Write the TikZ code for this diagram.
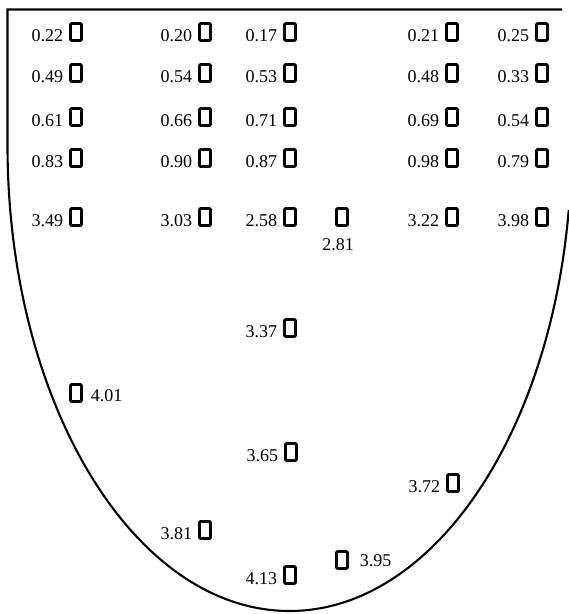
\documentclass[tikz,border=0pt]{standalone}
\usepackage{fontspec}
\setmainfont{Liberation Serif}
\usetikzlibrary{positioning}
\tikzset{
  every picture/.style={line width=2.1pt},
  probe/.style={draw, line width=2.8pt, minimum width=11pt, minimum height=17pt, inner sep=0pt, rounded corners=1pt},
  val/.style={font=\fontsize{18}{20}\selectfont, inner sep=0pt},
}

\begin{document}
\begin{tikzpicture}[x=1pt, y=-1pt]
  \useasboundingbox (0,0) rectangle (569,614);
  % ---------- outline ----------
  \draw (562,9.5) -- (7.5,9.5) -- (7.5,145) arc[start angle=180, end angle=8, x radius=282, y radius=466];
  % ---------- upper rows ----------
  \foreach \y/\ca/\cb/\cc/\cd/\ce [count=\r] in {32/0.22/0.20/0.17/0.21/0.25, 73/0.49/0.54/0.53/0.48/0.33, 117/0.61/0.66/0.71/0.69/0.54, 158/0.83/0.90/0.87/0.98/0.79, 217/3.49/3.03/2.58/3.22/3.98} {
    \foreach \x/\v [count=\k] in {76/\ca, 205/\cb, 290/\cc, 452/\cd, 542/\ce} {
      \node[probe] (p\r\k) at (\x,\y) {};
      \node[val, anchor=base east] (v\r\k) at ([xshift=-5pt]p\r\k.south west) {\v};
    }
  }
  \node[probe] (q1) at (342,217) {};
  \node[val, below=11pt of q1, xshift=-4pt] (w1) {2.81};
  % ---------- lower part ----------
  \foreach \x/\y/\v [count=\k] in {290/328/3.37, 291/452/3.65, 453/483/3.72, 205/530/3.81, 290/575/4.13} {
    \node[probe] (s\k) at (\x,\y) {};
    \node[val, anchor=base east] (t\k) at ([xshift=-5pt]s\k.south west) {\v};
  }
  \node[probe] (q2) at (76,393) {};
  \node[val, anchor=base west] (w2) at ([xshift=7pt, yshift=1pt]q2.south east) {4.01};
  \node[probe] (q3) at (342,560) {};
  \node[val, anchor=base west] (w3) at ([xshift=10pt, yshift=3pt]q3.south east) {3.95};
\end{tikzpicture}
\end{document}
